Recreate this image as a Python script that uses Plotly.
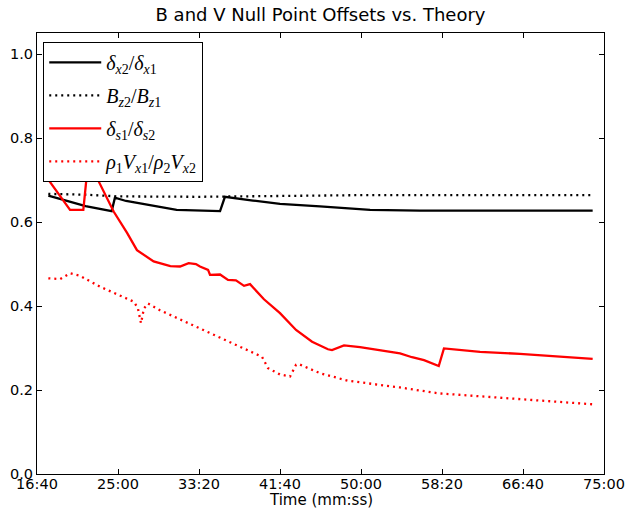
import plotly.graph_objects as go

# time in seconds
tick_vals = [1000, 1500, 2000, 2500, 3000, 3500, 4000, 4500]
tick_text = ["16:40", "25:00", "33:20", "41:40", "50:00", "58:20", "66:40", "75:00"]
y_ticks = [0.0, 0.2, 0.4, 0.6, 0.8, 1.0]

t_dx = [1070, 1200, 1300, 1461, 1481, 1550, 1636, 1750, 1862, 2130, 2160, 2333, 2500, 2747, 3056, 3364, 4430]
v_dx = [0.663, 0.648, 0.638, 0.626, 0.658, 0.650, 0.644, 0.636, 0.629, 0.626, 0.660, 0.651, 0.643, 0.637, 0.629, 0.627, 0.627]

t_bz = [1070, 1300, 1500, 2000, 2500, 3000, 4430]
v_bz = [0.667, 0.665, 0.661, 0.660, 0.662, 0.664, 0.664]

t_ds = [1062, 1204, 1286, 1309, 1320, 1370, 1473, 1556, 1617, 1720, 1823, 1883, 1936, 1981, 2006, 2056,
        2068, 2130, 2179, 2228, 2278, 2315, 2401, 2500, 2599, 2698, 2796, 2821, 2850, 2895, 2994, 3117,
        3241, 3315, 3389, 3480, 3512, 3735, 3981, 4430]
v_ds = [0.705, 0.629, 0.629, 0.72, 0.76, 0.705, 0.625, 0.574, 0.533, 0.506, 0.495, 0.494, 0.502, 0.500, 0.494, 0.486,
        0.474, 0.475, 0.462, 0.461, 0.448, 0.452, 0.416, 0.383, 0.343, 0.315, 0.297, 0.295, 0.299, 0.306, 0.302, 0.294,
        0.287, 0.278, 0.271, 0.257, 0.299, 0.291, 0.286, 0.274]

t_rv = [1070, 1142, 1204, 1265, 1389, 1512, 1599, 1623, 1642, 1660, 1685, 1759, 2006, 2253, 2389, 2426,
        2500, 2562, 2599, 2614, 2747, 2920, 3241, 3480, 3981, 4430]
v_rv = [0.466, 0.464, 0.478, 0.472, 0.446, 0.426, 0.410, 0.394, 0.359, 0.394, 0.406, 0.390, 0.347, 0.303, 0.279, 0.252,
        0.237, 0.232, 0.260, 0.262, 0.240, 0.222, 0.206, 0.192, 0.178, 0.166]

names = [
    "<i>δ</i><sub><i>x</i>2</sub>/<i>δ</i><sub><i>x</i>1</sub>",
    "<i>B</i><sub><i>z</i>2</sub>/<i>B</i><sub><i>z</i>1</sub>",
    "<i>δ</i><sub><i>s</i>1</sub>/<i>δ</i><sub><i>s</i>2</sub>",
    "<i>ρ</i><sub>1</sub><i>V</i><sub><i>x</i>1</sub>/<i>ρ</i><sub>2</sub><i>V</i><sub><i>x</i>2</sub>",
]

DOT = "2px,4px"
fig = go.Figure()
fig.add_trace(go.Scatter(x=t_dx, y=v_dx, mode="lines", name=names[0], legendgroup="a",
                         line=dict(color="black", width=2.3)))
fig.add_trace(go.Scatter(x=t_bz, y=v_bz, mode="lines", name=names[1], legendgroup="b",
                         line=dict(color="black", width=2.3, dash=DOT)))
fig.add_trace(go.Scatter(x=t_ds, y=v_ds, mode="lines", name=names[2], legendgroup="c",
                         line=dict(color="#ff0000", width=2.3)))
fig.add_trace(go.Scatter(x=t_rv, y=v_rv, mode="lines", name=names[3], legendgroup="d",
                         line=dict(color="#ff0000", width=2.3, dash=DOT)))

axis_common = dict(showgrid=False, zeroline=False, showline=True, linecolor="black", linewidth=1,
                   mirror="ticks", ticks="inside", ticklen=5, tickcolor="black", automargin=False,
                   tickfont=dict(family="DejaVu Sans", size=14.5, color="black"))

fig.update_layout(
    width=629, height=509,
    margin=dict(l=37, r=25, t=33, b=35),
    paper_bgcolor="white", plot_bgcolor="white",
    title=dict(text="B and V Null Point Offsets vs. Theory", x=0.5, xref="paper",
               y=1 - 15 / 509, yanchor="middle",
               font=dict(family="DejaVu Sans", size=18, color="black")),
    xaxis=dict(range=[1000, 4500], tickvals=tick_vals, ticktext=tick_text,
               ticklabelstandoff=-3, **axis_common),
    yaxis=dict(range=[0, 1.05], tickvals=y_ticks, tickformat=".1f", **axis_common),
    legend=dict(x=0.011, y=0.98, xanchor="left", yanchor="top", bgcolor="white",
                bordercolor="black", borderwidth=1, tracegroupgap=4, itemwidth=52,
                font=dict(family="Liberation Serif", size=20, color="black")),
    showlegend=True,
    annotations=[dict(text="Time (mm:ss)", xref="paper", yref="paper", x=0.5, y=-(500 - 474) / 441,
                      xanchor="center", yanchor="middle", showarrow=False,
                      font=dict(family="DejaVu Sans", size=15, color="black"))],
)

fig.write_html("out.html", config={"displayModeBar": False},
               post_script="document.body.style.margin='0';document.body.style.overflow='hidden';")
